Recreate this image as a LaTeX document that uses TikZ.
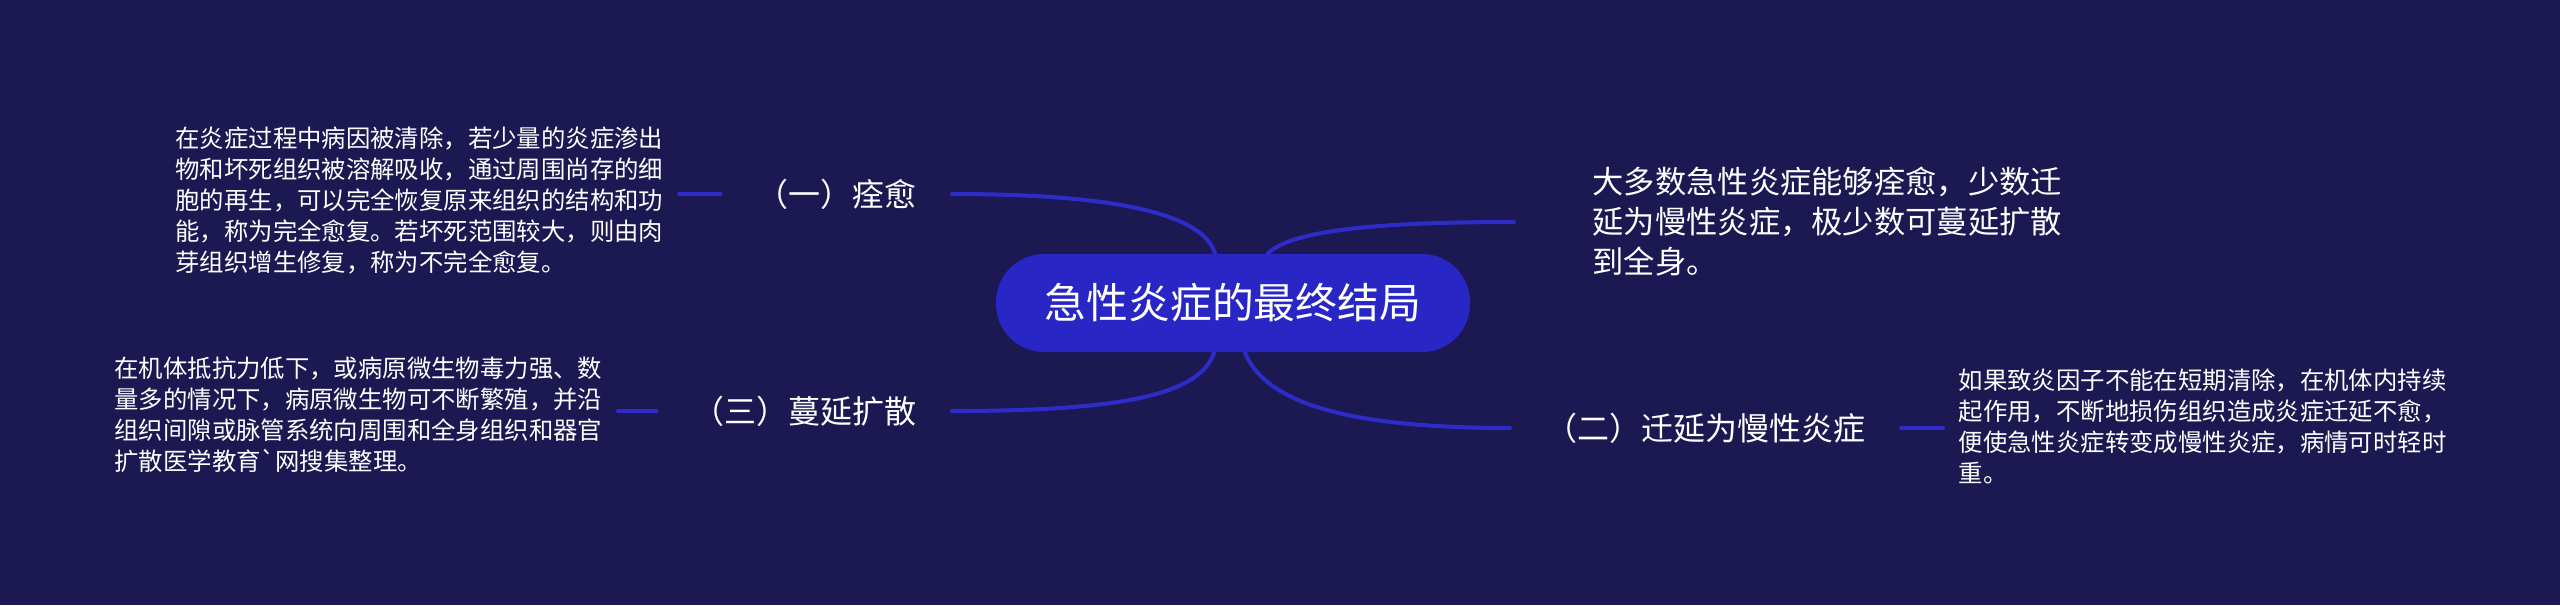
\documentclass[tikz,border=0pt]{standalone}
\usepackage{fontspec}
\newfontfamily\cjk{Noto Sans CJK SC}
\usetikzlibrary{calc}
\definecolor{bgnavy}{RGB}{27,24,82}
\definecolor{rootblue}{RGB}{40,38,196}
\definecolor{branchblue}{RGB}{46,44,200}
\begin{document}
\begin{tikzpicture}[x=0.1mm,y=-0.1mm,line join=round,line cap=round,
  branch/.style={draw=branchblue,line width=1.15pt},
  root/.style={fill=rootblue,text=white,rounded corners=0.48cm,minimum width=4.74cm,minimum height=0.98cm,inner sep=0pt,font=\cjk\fontsize{11.9pt}{14pt}\selectfont},
  topic/.style={text=white,inner ysep=0pt,inner xsep=0.35cm,font=\cjk\fontsize{9.1pt}{11pt}\selectfont},
  detail/.style={text=white,align=left,inner ysep=0pt,inner xsep=0.15cm,font=\cjk\fontsize{6.94pt}{8.82pt}\selectfont}]
\fill[bgnavy] (0,0) rectangle (2560,605);
% centre
\node[root] (root) at (1233,303) {急性炎症的最终结局};
% branches
\node[topic,anchor=east] (heal) at (952,194) {（一）痊愈};
\node[topic,anchor=west] (chronic) at (1510,428) {（二）迁延为慢性炎症};
\node[topic,anchor=east] (spread) at (952,411) {（三）蔓延扩散};
\node[topic,anchor=west,inner xsep=0.78cm,align=left,font=\cjk\fontsize{8.9pt}{11.4pt}\selectfont] (most) at (1514,222)
  {大多数急性炎症能够痊愈，少数迁\\延为慢性炎症，极少数可蔓延扩散\\到全身。};
% details
\node[detail,anchor=east] (healtxt) at (679,200)
  {在炎症过程中病因被清除，若少量的炎症渗出\\物和坏死组织被溶解吸收，通过周围尚存的细\\胞的再生，可以完全恢复原来组织的结构和功\\能，称为完全愈复。若坏死范围较大，则由肉\\芽组织增生修复，称为不完全愈复。};
\node[detail,anchor=west] (chronictxt) at (1943,426)
  {如果致炎因子不能在短期清除，在机体内持续\\起作用，不断地损伤组织造成炎症迁延不愈，\\便使急性炎症转变成慢性炎症，病情可时轻时\\重。};
\node[detail,anchor=east] (spreadtxt) at (618,415)
  {在机体抵抗力低下，或病原微生物毒力强、数\\量多的情况下，病原微生物可不断繁殖，并沿\\组织间隙或脉管系统向周围和全身组织和器官\\扩散医学教育\symbol{96}网搜集整理。};
% connectors
\draw[branch] ($(root.north)+(-18,0)$) .. controls +(-12,-38) and +(170,0) .. (heal.east);
\draw[branch] ($(root.north)+(35,0)$) .. controls +(25,-24) and +(-130,0) .. (most.west);
\draw[branch] ($(root.south)+(-19,0)$) .. controls +(-14,42) and +(170,0) .. (spread.east);
\draw[branch] ($(root.south)+(12,0)$) .. controls +(20,48) and +(-170,0) .. (chronic.west);
\foreach \a/\b in {healtxt/heal,spreadtxt/spread}
  \draw[branch] (\a.east |- \b.west) -- (\b.west);
\draw[branch] (chronic.east) -- (chronictxt.west |- chronic.east);
\end{tikzpicture}
\end{document}
